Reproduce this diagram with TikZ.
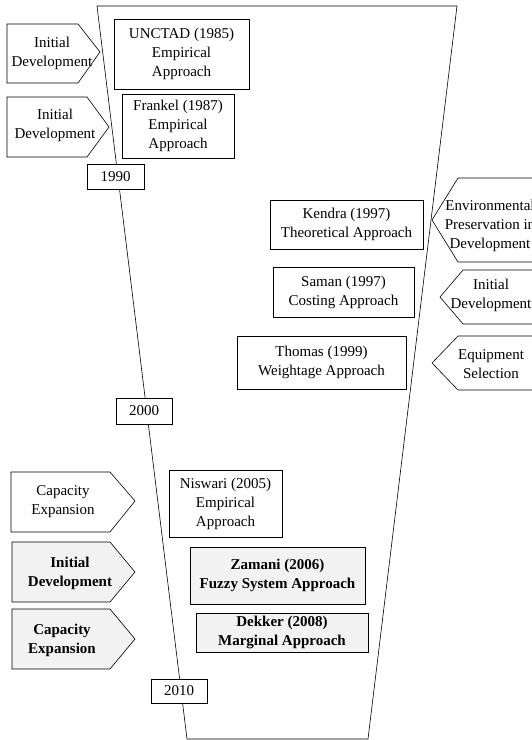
\documentclass[tikz,border=0pt]{standalone}
\usepackage{fontspec}
\setmainfont{Liberation Serif}
\begin{document}
\begin{tikzpicture}[x=1pt,y=-1pt,
  every node/.style={font=\fontsize{15}{19}\selectfont, align=center, inner sep=0pt},
  yrbox/.style={draw, line width=0.6pt, fill=white},
  shadebox/.style={draw, line width=0.6pt, fill=black!5, font=\fontsize{15}{19}\selectfont\bfseries},
  tag/.style={draw, line width=0.6pt, fill=white},
  shadetag/.style={draw, line width=0.6pt, fill=black!5},
  boldtxt/.style={font=\fontsize{15}{19}\selectfont\bfseries}
]
\useasboundingbox (0,0) rectangle (532,740);
% funnel
\draw[line width=0.6pt] (97,6) -- (457,6) -- (368,739) -- (187,739) -- cycle;

% left tags
\draw[tag] (7,24) -- (78,24) -- (100,52) -- (78,83) -- (7,83) -- cycle;
\node (t1) at (52,53) {Initial\\Development};
\draw[tag] (7,97) -- (87,97) -- (109,127) -- (87,157) -- (7,157) -- cycle;
\node (t2) at (55,125) {Initial\\Development};
\draw[tag] (11,472) -- (110,472) -- (135,501) -- (110,532) -- (11,532) -- cycle;
\node (t3) at (63,502) {Capacity\\Expansion};
\draw[shadetag] (12,542) -- (110,542) -- (135,572) -- (110,602) -- (12,602) -- cycle;
\node[boldtxt] (t4) at (70,573) {Initial\\Development};
\draw[shadetag] (12,609) -- (110,609) -- (135,639) -- (110,669) -- (12,669) -- cycle;
\node[boldtxt] (t5) at (62,640) {Capacity\\Expansion};

% right tags
\draw[tag] (432,220) -- (458,178) -- (580,178) -- (580,262) -- (458,262) -- cycle;
\node (r1) at (490,226) {Environmental\\Preservation in\\Development};
\draw[tag] (440,297) -- (463,270) -- (580,270) -- (580,324) -- (463,324) -- cycle;
\node (r2) at (491,295) {Initial\\Development};
\draw[tag] (432,363) -- (458,336) -- (580,336) -- (580,390) -- (458,390) -- cycle;
\node (r3) at (491,364) {Equipment\\Selection};

% boxes
\node[yrbox, minimum width=135pt, minimum height=70pt] (unctad) at (181.5,54) {UNCTAD (1985)\\Empirical\\Approach};
\node[yrbox, minimum width=112pt, minimum height=64pt] (frankel) at (178,126) {Frankel (1987)\\Empirical\\Approach};
\node[yrbox, minimum width=57pt, minimum height=25pt] (y1990) at (115.5,176.5) {1990};
\node[yrbox, minimum width=153pt, minimum height=49pt] (kendra) at (346.5,224.5) {Kendra (1997)\\Theoretical Approach};
\node[yrbox, minimum width=141pt, minimum height=50pt] (saman) at (343.5,292) {Saman (1997)\\Costing Approach};
\node[yrbox, minimum width=169pt, minimum height=53pt] (thomas) at (321.5,362.5) {Thomas (1999)\\Weightage Approach};
\node[yrbox, minimum width=56pt, minimum height=26pt] (y2000) at (144,411) {2000};
\node[yrbox, minimum width=113pt, minimum height=67pt] (niswari) at (225.5,503.5) {Niswari (2005)\\Empirical\\Approach};
\node[shadebox, minimum width=175pt, minimum height=57pt] (zamani) at (277.5,575.5) {Zamani (2006)\\Fuzzy System Approach};
\node[shadebox, minimum width=172pt, minimum height=39pt] (dekker) at (282,632.5) {Dekker (2008)\\Marginal Approach};
\node[yrbox, minimum width=56pt, minimum height=24pt] (y2010) at (179,691) {2010};
\end{tikzpicture}
\end{document}
